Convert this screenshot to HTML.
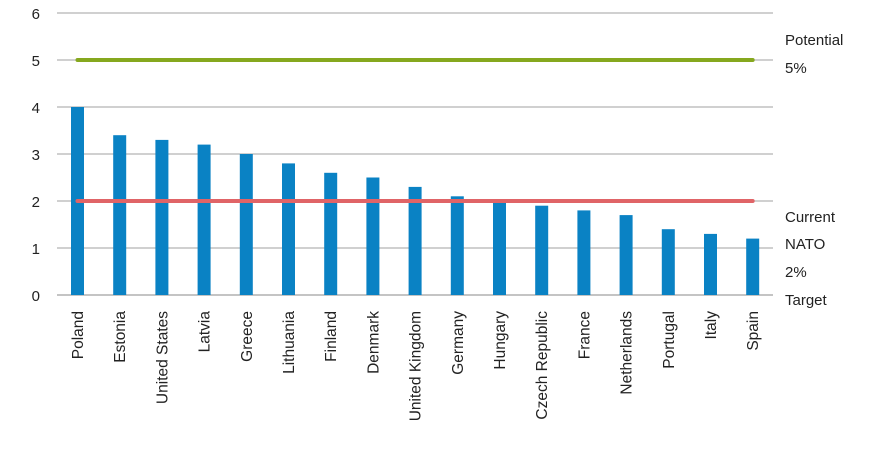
<!DOCTYPE html>
<html><head><meta charset="utf-8"><style>
body{margin:0;background:#fff;}
svg text{font-family:"Liberation Sans",Arial,sans-serif;fill:#222;}
</style></head><body>
<svg id="chart" width="875" height="462" viewBox="0 0 875 462" xmlns="http://www.w3.org/2000/svg">
<g id="grid"></g><g id="bars"></g><g id="refs"></g><g id="labels"></g>
<g font-size="15">
<text x="785" y="45">Potential</text>
<text x="785" y="73">5%</text>
<text x="785" y="222">Current</text>
<text x="785" y="249">NATO</text>
<text x="785" y="277">2%</text>
<text x="785" y="305">Target</text>
</g>
</svg>
<script>
const categories=["Poland","Estonia","United States","Latvia","Greece","Lithuania","Finland","Denmark","United Kingdom","Germany","Hungary","Czech Republic","France","Netherlands","Portugal","Italy","Spain"];
const values=[4.0,3.4,3.3,3.2,3.0,2.8,2.6,2.5,2.3,2.1,2.0,1.9,1.8,1.7,1.4,1.3,1.2];
const yTicks=[0,1,2,3,4,5,6];
const targetCurrent=2;
const targetPotential=5;
const NS="http://www.w3.org/2000/svg";
const y0=295,yPer=47,x0=77.5,step=42.2,bw=13;
const y=v=>y0-v*yPer;
const x=i=>x0+i*step;
function mk(t,a,p){const e=document.createElementNS(NS,t);for(const k in a)e.setAttribute(k,a[k]);p.appendChild(e);return e;}
const grid=document.getElementById('grid');
yTicks.forEach(t=>{
 const l=mk('line',{x1:57,x2:773,y1:y(t),y2:y(t),stroke:t===0?'#888':'#a0a0a0','stroke-width':1},grid);
 
 
 const tx=mk('text',{x:40,y:y(t)+6,'text-anchor':'end','font-size':15},grid);
 tx.textContent=t;
 
 
});
const bars=document.getElementById('bars'),labels=document.getElementById('labels');
categories.forEach((c,i)=>{
 const r=mk('rect',{x:x(i)-bw/2,y:y(values[i]),width:bw,height:y0-y(values[i]),fill:'#0a82c4'},bars);
 
 
 const t=mk('text',{transform:`translate(${x(i)+5.5},311) rotate(-90)`,'text-anchor':'end','font-size':15.5},labels);
 t.textContent=c;
 
 
});
const refs=document.getElementById('refs');
const g=mk('line',{x1:x(0),x2:x(categories.length-1),y1:y(targetPotential),y2:y(targetPotential),stroke:'#86a81e','stroke-width':4,'stroke-linecap':'round'},refs);


const rl=mk('line',{x1:x(0),x2:x(categories.length-1),y1:y(targetCurrent),y2:y(targetCurrent),stroke:'#e06467','stroke-width':4,'stroke-linecap':'round'},refs);


</script>
</body></html>
